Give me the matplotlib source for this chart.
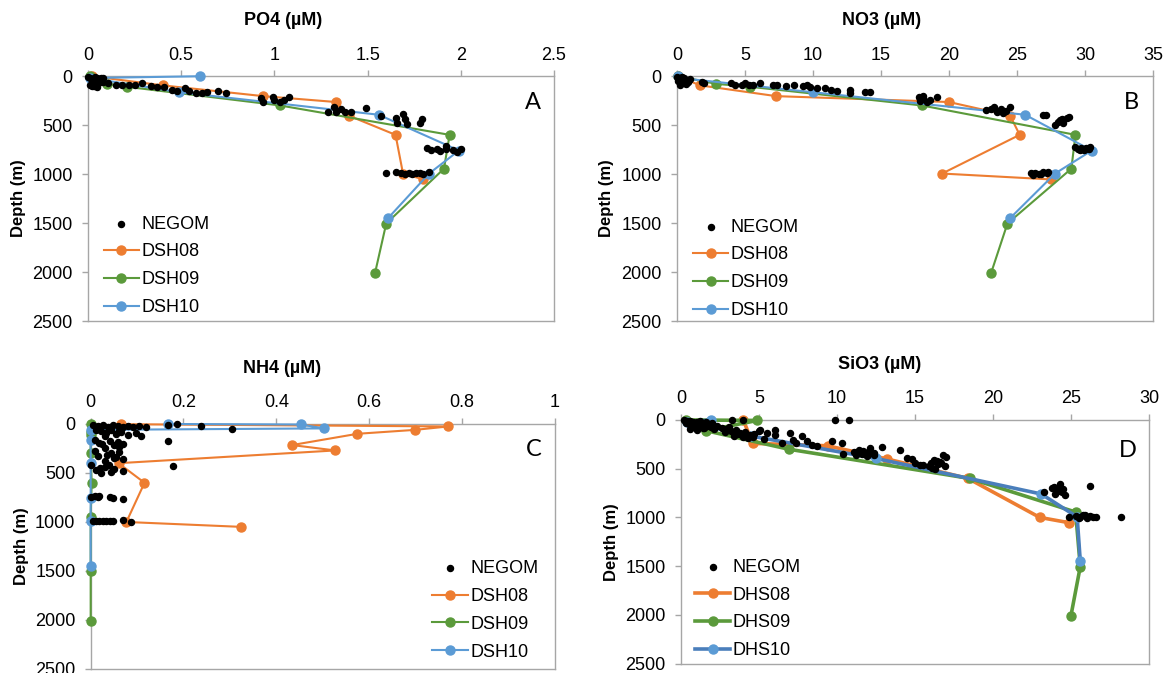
import numpy as np
import matplotlib.pyplot as plt
from matplotlib.ticker import FuncFormatter, MultipleLocator

plt.rcParams['font.family'] = ['Liberation Sans', 'DejaVu Sans']

ORANGE = '#ED7D31'
GREEN = '#5B9A3B'
BLUE = '#5B9BD5'
BLUE_DARK = '#4A7EBB'
FRAME = '#A6A6A6'

# ---------------- station depths (m) ----------------
dsh08_depth = [2, 95, 205, 265, 405, 600, 995, 1055]
dsh09_depth = [2, 80, 110, 300, 600, 945, 1505, 2010]
dsh10_depth = [2, 20, 165, 395, 760, 995, 1450]

# ---------------- PO4 ----------------
po4_dsh08 = [0.02, 0.40, 0.94, 1.33, 1.40, 1.65, 1.69, 1.80]
po4_dsh09 = [0.01, 0.10, 0.21, 1.03, 1.94, 1.91, 1.60, 1.54]
po4_dsh10 = [0.60, 0.01, 0.49, 1.56, 1.99, 1.83, 1.61]
po4_negom = [0.00, 0.01, 0.02, 0.03, 0.04, 0.05, 0.06, 0.07, 0.08, 0.02, 0.03, 0.05, 0.06, 0.07, 0.01, 0.04, 0.08, 0.03, 0.05, 0.02,
             0.11, 0.15, 0.18, 0.22, 0.25, 0.29, 0.34, 0.37, 0.41, 0.45, 0.48, 0.52, 0.54, 0.58, 0.61, 0.64, 0.70, 0.74,
             0.93, 0.94, 0.99, 1.00, 1.03, 1.05, 1.08,
             1.29, 1.32, 1.33, 1.36, 1.38, 1.41, 1.49,
             1.57, 1.65, 1.66, 1.69, 1.70, 1.71, 1.79, 1.78,
             1.82, 1.84, 1.87, 1.89, 1.92, 1.96, 1.98, 2.00, 1.92,
             1.60, 1.65, 1.68, 1.70, 1.72, 1.74, 1.76, 1.78, 1.80, 1.83]
po4_negom_depth = [5, 15, 30, 45, 10, 25, 40, 60, 20, 70, 55, 80, 35, 15, 90, 50, 65, 100, 110, 105,
                   75, 92, 92, 92, 92, 75, 102, 109, 116, 143, 150, 126, 150, 177, 170, 160, 150, 177,
                   228, 262, 211, 245, 262, 245, 218,
                   364, 320, 364, 340, 364, 364, 330,
                   408, 425, 476, 391, 442, 493, 442, 476,
                   735, 750, 745, 760, 740, 755, 770, 745, 715,
                   986, 980, 990, 1000, 985, 995, 990, 985, 1000, 980]

# ---------------- NO3 ----------------
no3_dsh08 = [0.1, 1.7, 7.3, 20.0, 24.5, 25.2, 19.5, 27.5]
no3_dsh09 = [0.1, 2.9, 5.4, 18.0, 29.3, 29.0, 24.3, 23.1]
no3_dsh10 = [0.05, 0.2, 10.0, 25.6, 30.5, 27.8, 24.5]
no3_negom = [0.0, 0.2, 0.4, 0.6, 0.8, 0.3, 0.5, 0.1, 0.7, 0.9, 0.2, 0.4, 0.6, 1.0, 0.3,
             1.84, 1.96, 4.0, 4.3, 4.8, 5.0, 5.3, 5.6, 6.1, 7.1, 7.35, 8.0, 8.6, 9.3, 9.6, 9.8, 10.3, 10.9, 11.3, 11.8,
             12.7, 12.7, 13.85, 14.2,
             17.8, 17.9, 18.1, 18.4, 19.1, 18.1, 17.9, 18.6,
             22.7, 23.3, 23.5, 23.8, 24.0, 24.5, 23.1, 24.2,
             26.9, 27.1, 28.0, 28.3, 28.65, 27.8, 28.2, 28.8, 28.4,
             29.3, 29.5, 29.7, 29.9, 30.1, 30.3, 30.4, 29.6, 30.0,
             26.0, 26.3, 26.6, 26.9, 27.2, 26.2, 26.8, 27.3]
no3_negom_depth = [5, 15, 30, 45, 60, 75, 20, 50, 85, 40, 90, 10, 70, 35, 25,
                   58, 75, 75, 92, 92, 75, 92, 92, 75, 92, 92, 102, 92, 102, 92, 116, 126, 126, 143, 150,
                   143, 177, 160, 160,
                   211, 252, 228, 262, 218, 204, 230, 240,
                   347, 320, 364, 340, 374, 320, 335, 355,
                   398, 400, 466, 440, 432, 500, 449, 415, 480,
                   721, 740, 730, 755, 735, 748, 728, 752, 745,
                   993, 985, 1000, 980, 990, 1005, 995, 976]

# ---------------- NH4 ----------------
nh4_dsh08_depth = [2, 25, 60, 100, 215, 270, 400, 600, 1000, 1050]
nh4_dsh08 = [0.066, 0.771, 0.699, 0.575, 0.434, 0.527, 0.060, 0.116, 0.077, 0.325]
nh4_dsh09 = [0.0, 0.0, 0.0, 0.0, 0.002, 0.0, 0.0, 0.0]
nh4_dsh10_depth = [0, 5, 45, 60, 165, 395, 760, 995, 1450]
nh4_dsh10 = [0.167, 0.453, 0.503, 0.0, 0.0, 0.0, 0.0, 0.0, 0.0]
nh4_negom = [0.005, 0.016, 0.026, 0.037, 0.048, 0.059, 0.069, 0.080, 0.091, 0.105, 0.119, 0.166, 0.187, 0.237, 0.305,
             0.012, 0.023, 0.034, 0.044, 0.055, 0.066, 0.080, 0.098, 0.109, 0.030, 0.060,
             0.009, 0.019, 0.030, 0.041, 0.051, 0.062, 0.069, 0.167, 0.025, 0.058,
             0.009, 0.016, 0.030, 0.044, 0.051, 0.062, 0.069, 0.035, 0.055,
             0.001, 0.012, 0.023, 0.030, 0.044, 0.051, 0.069, 0.178, 0.020, 0.040,
             0.001, 0.009, 0.016, 0.019, 0.041, 0.048, 0.069,
             0.005, 0.012, 0.019, 0.026, 0.034, 0.041, 0.048, 0.069, 0.087]
nh4_negom_depth = [10, 20, 15, 30, 12, 25, 35, 18, 28, 22, 30, 7, 0, 17, 48,
                   58, 75, 90, 65, 100, 80, 110, 95, 126, 120, 70,
                   160, 190, 245, 170, 215, 230, 200, 170, 205, 185,
                   279, 330, 381, 300, 350, 290, 360, 320, 340,
                   415, 470, 500, 440, 490, 460, 480, 432, 450, 420,
                   745, 738, 750, 730, 740, 755, 765,
                   995, 990, 985, 990, 985, 990, 985, 980, 1000]

# ---------------- SiO3 ----------------
sio3_dhs08_depth = [2, 240, 265, 400, 600, 1000, 1055]
sio3_dhs08 = [4.0, 4.6, 9.4, 13.2, 18.4, 23.0, 24.9]
sio3_dhs09_depth = [0, 5, 110, 300, 600, 945, 1505, 2010]
sio3_dhs09 = [0.3, 4.9, 1.6, 6.9, 18.5, 25.3, 25.6, 25.0]
sio3_dhs10 = [1.9, 0.4, 4.5, 12.5, 23.1, 25.4, 25.6]
sio3_negom = [9.9, 10.75, 3.3, 4.0,
              0.2, 0.4, 0.6, 0.8, 1.0, 1.2, 1.4, 1.6, 1.8, 2.0, 0.5, 0.9, 1.3, 1.7, 0.3, 0.7, 1.1, 1.5, 1.9, 2.1, 0.6, 1.0, 1.4,
              2.3, 2.6, 2.9, 3.2, 3.5, 3.8, 4.1, 4.4, 4.7, 5.0, 2.8, 3.4, 4.0, 4.6, 5.3, 3.1, 3.7, 4.3,
              5.1, 5.5, 6.05, 6.0, 7.0, 6.5, 7.2, 7.75, 7.4, 8.1, 8.4, 8.7, 9.7, 10.3, 10.4, 11.1, 11.4, 11.7, 12.1, 12.35,
              12.9, 14.06, 14.5, 15.0, 16.0, 16.1, 16.2, 16.8, 16.9, 16.5, 15.5, 16.4,
              11.2, 11.6, 12.0, 12.4, 11.9, 14.8, 15.3, 15.9, 16.3, 16.6, 17.0, 16.7,
              23.3, 23.8, 24.0, 24.3, 24.6, 24.1, 24.4, 23.9, 26.2, 24.2, 24.5,
              24.9, 25.3, 25.6, 25.9, 26.2, 26.6, 25.5, 26.0, 28.2, 25.8, 26.4]
sio3_negom_depth = [0, 0, 0, 0,
                    5, 10, 15, 20, 25, 10, 30, 20, 40, 35, 45, 50, 55, 60, 30, 70, 65, 80, 75, 90, 95, 100, 85,
                    60, 80, 95, 110, 100, 130, 125, 150, 140, 110, 120, 160, 170, 180, 200, 75, 140, 190,
                    101, 135, 152, 108, 135, 237, 203, 169, 237, 220, 254, 264, 220, 237, 345, 331, 304, 321, 287, 338,
                    277, 304, 389, 439, 439, 490, 406, 355, 473, 456, 460, 420,
                    360, 345, 330, 355, 372, 405, 460, 470, 500, 430, 380, 445,
                    740, 700, 760, 654, 774, 720, 740, 688, 681, 730, 710,
                    998, 985, 1000, 975, 990, 995, 1010, 1005, 998, 980, 1000]

fig = plt.figure(figsize=(11.67, 6.73), dpi=100)
axA = fig.add_axes([0.0754, 0.523, 0.3993, 0.364])
axB = fig.add_axes([0.5800, 0.523, 0.4080, 0.364])
axC = fig.add_axes([0.0777, 0.006, 0.3976, 0.364])
axD = fig.add_axes([0.5835, 0.014, 0.4010, 0.362])


def setup(ax, xmax, xstep, title, title_x, letter, letter_y):
    ax.set_xlim(0, xmax)
    ax.set_ylim(2500, 0)
    ax.xaxis.tick_top()
    ax.xaxis.set_major_locator(MultipleLocator(xstep))
    ax.yaxis.set_major_locator(MultipleLocator(500))
    ax.xaxis.set_major_formatter(FuncFormatter(lambda v, p: '%g' % v))
    ax.tick_params(axis='x', direction='out', length=4, width=1, color=FRAME, labelsize=13, pad=5)
    ax.tick_params(axis='y', direction='out', length=4, width=1, color=FRAME, labelsize=13, pad=7)
    for s in ax.spines.values():
        s.set_color(FRAME)
        s.set_linewidth(1)
    ax.text(title_x, 1.228, title, transform=ax.transAxes, ha='center', va='center',
            fontsize=13, fontweight='bold')
    ax.set_ylabel('Depth (m)', fontsize=12, fontweight='bold')
    ax.yaxis.set_label_coords(-0.133, 0.5)
    ax.text(0.955, letter_y, letter, transform=ax.transAxes, ha='center', va='center',
            fontsize=17, family='Lato')


def stations(ax, xs, ds, labels, lw=1.5, line_colors=None):
    cols = [ORANGE, GREEN, BLUE]
    lcols = line_colors or cols
    for x, d, lab, c, lc in zip(xs, ds, labels, cols, lcols):
        ax.plot(x, d, '-o', color=lc, mfc=c, mec=c, lw=lw, ms=6.5, label=lab,
                zorder=4, clip_on=False)


def negom(ax, x, d):
    ax.scatter(x, d, s=19, color='black', label='NEGOM', zorder=5, clip_on=False)


# A: PO4
negom(axA, po4_negom, po4_negom_depth)
stations(axA, [po4_dsh08, po4_dsh09, po4_dsh10], [dsh08_depth, dsh09_depth, dsh10_depth],
         ['DSH08', 'DSH09', 'DSH10'])
setup(axA, 2.5, 0.5, 'PO4 (µM)', 0.418, 'A', 0.894)

# B: NO3
negom(axB, no3_negom, no3_negom_depth)
stations(axB, [no3_dsh08, no3_dsh09, no3_dsh10], [dsh08_depth, dsh09_depth, dsh10_depth],
         ['DSH08', 'DSH09', 'DSH10'])
setup(axB, 35, 5, 'NO3 (µM)', 0.429, 'B', 0.894)

# C: NH4
negom(axC, nh4_negom, nh4_negom_depth)
stations(axC, [nh4_dsh08, nh4_dsh09, nh4_dsh10], [nh4_dsh08_depth, dsh09_depth, nh4_dsh10_depth],
         ['DSH08', 'DSH09', 'DSH10'])
setup(axC, 1, 0.2, 'NH4 (µM)', 0.412, 'C', 0.897)

# D: SiO3
negom(axD, sio3_negom, sio3_negom_depth)
stations(axD, [sio3_dhs08, sio3_dhs09, sio3_dhs10], [sio3_dhs08_depth, sio3_dhs09_depth, dsh10_depth],
         ['DHS08', 'DHS09', 'DHS10'], lw=2.6, line_colors=[ORANGE, GREEN, BLUE_DARK])
setup(axD, 30, 5, 'SiO3 (µM)', 0.425, 'D', 0.873)

leg_kw = dict(frameon=False, fontsize=13, numpoints=1, scatterpoints=1, handlelength=1.95,
              handletextpad=0.15, labelspacing=0.6, borderpad=0, borderaxespad=0)
axA.legend(loc='lower left', bbox_to_anchor=(0.034, 0.02), **leg_kw)
axB.legend(loc='lower left', bbox_to_anchor=(0.034, 0.008), **leg_kw)
axC.legend(loc='lower right', bbox_to_anchor=(0.965, 0.034), **leg_kw)
axD.legend(loc='lower left', bbox_to_anchor=(0.030, 0.018), **leg_kw)

fig.savefig('out.png', dpi=100)
